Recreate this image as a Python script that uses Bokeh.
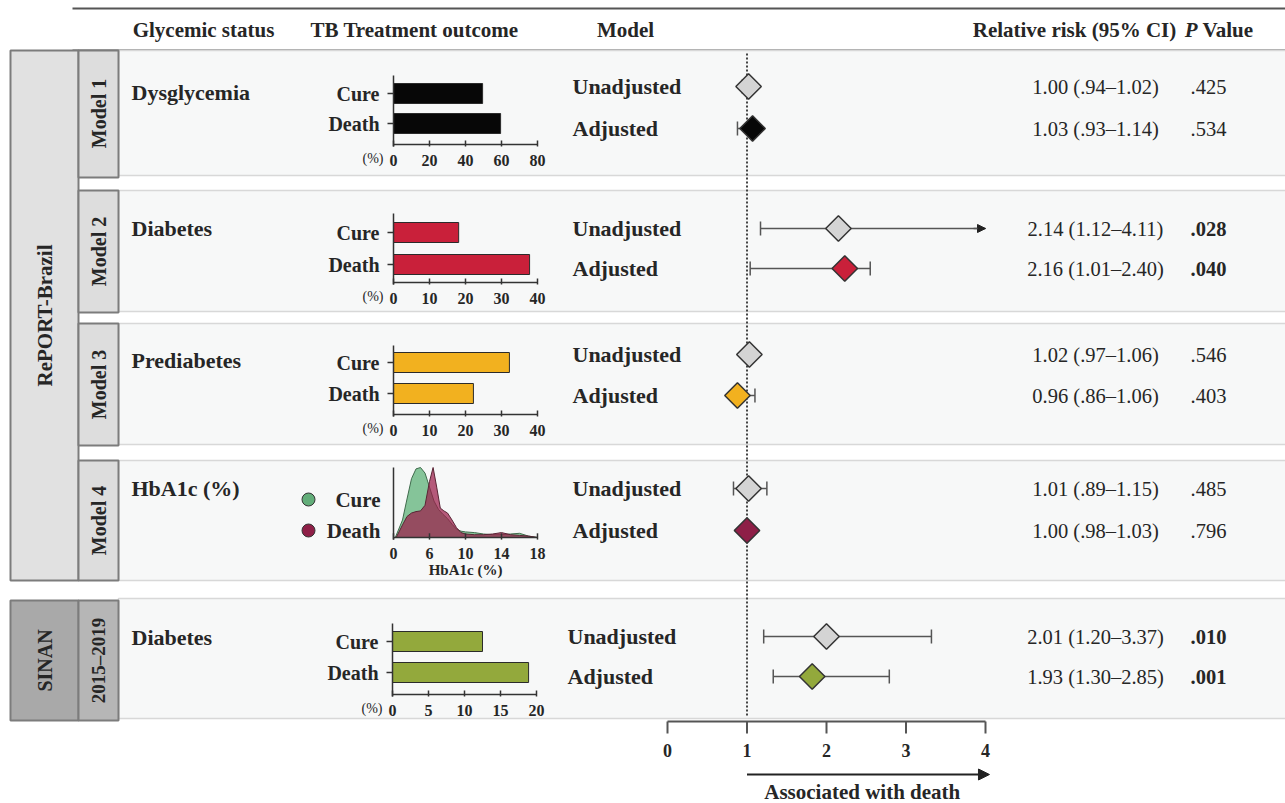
import numpy as np
from bokeh.plotting import figure
from bokeh.models import Range1d, Arrow, NormalHead
from bokeh.core.properties import value
from bokeh.embed import file_html
from bokeh.resources import INLINE

# ---------------- data ----------------
row_labels = ["Model 1", "Model 2", "Model 3", "Model 4", "2015–2019"]
glycemic = ["Dysglycemia", "Diabetes", "Prediabetes", "HbA1c (%)", "Diabetes"]
model_types = ["Unadjusted", "Adjusted"]
outcomes = ["Cure", "Death"]

rr_text = [["1.00 (.94–1.02)", "1.03 (.93–1.14)"],
           ["2.14 (1.12–4.11)", "2.16 (1.01–2.40)"],
           ["1.02 (.97–1.06)", "0.96 (.86–1.06)"],
           ["1.01 (.89–1.15)", "1.00 (.98–1.03)"],
           ["2.01 (1.20–3.37)", "1.93 (1.30–2.85)"]]
p_text = [[".425", ".534"], [".028", ".040"], [".546", ".403"], [".485", ".796"], [".010", ".001"]]
p_vals = [[0.425, 0.534], [0.028, 0.040], [0.546, 0.403], [0.485, 0.796], [0.010, 0.001]]

# forest marks
rr_est = [[1.02, 1.07], [2.15, 2.23], [1.03, 0.88], [1.02, 1.00], [2.00, 1.82]]
rr_lo = [[0.94, 0.88], [1.17, 1.04], [0.97, 0.86], [0.83, 0.98], [1.21, 1.33]]
rr_hi = [[1.02, 1.14], [4.11, 2.55], [1.06, 1.10], [1.25, 1.03], [3.32, 2.79]]
rr_ticks = [0, 1, 2, 3, 4]

# bar charts (% of patients)
cure_pct = [49.5, 18.1, 32.2, None, 12.5]
death_pct = [59.5, 37.8, 22.2, None, 18.9]
bar_ticks = [[0, 20, 40, 60, 80], [0, 10, 20, 30, 40], [0, 10, 20, 30, 40], [], [0, 5, 10, 15, 20]]

# HbA1c density (relative height)
cure_hb = [2.2, 3.0, 3.5, 4.0, 4.5, 5.0, 5.5, 6.0, 6.5, 7.0, 7.5, 8.0, 8.5, 9.0, 9.5, 10.0, 11.0, 12.0, 13.0, 14.0, 15.0, 16.0, 17.0, 18.0]
cure_dens = [0.0, 0.25, 0.55, 0.84, 0.98, 1.0, 0.92, 0.72, 0.52, 0.40, 0.33, 0.27, 0.19, 0.12, 0.09, 0.08, 0.07, 0.05, 0.04, 0.04, 0.05, 0.06, 0.02, 0.0]
death_hb = [2.3, 3.0, 3.5, 4.0, 4.5, 5.0, 5.5, 6.0, 6.4, 6.8, 7.2, 7.6, 8.0, 8.5, 9.0, 9.5, 10.0, 11.0, 12.0, 13.0, 14.0, 15.0, 16.0, 17.0, 18.0]
death_dens = [0.0, 0.18, 0.30, 0.35, 0.37, 0.38, 0.46, 0.80, 1.0, 0.72, 0.42, 0.38, 0.35, 0.25, 0.14, 0.07, 0.05, 0.04, 0.04, 0.05, 0.07, 0.04, 0.03, 0.02, 0.0]
hb_ticks = [2, 6, 10, 14, 18]
hb_tick_labels = ["0", "6", "10", "14", "18"]

# ---------------- styling / layout ----------------
adj_color = ["#070707", "#c9203a", "#f2b11f", "#8e1f47", "#93a93c"]
bar_color = ["#070707", "#c9203a", "#f2b11f", None, "#93a93c"]
grey_diamond = "#d4d4d4"
INK = "#262626"
FONT = value("Liberation Serif")

W, H = 1285, 803
X0, X1 = 0, W
YB, YT = H, 0

row_top = [50, 190, 323, 460, 598]
row_bot = [175, 311, 444, 580, 718]
label_y = [92, 228, 360, 488, 637]
model_y = [[86, 128], [228, 268], [354, 395], [488, 530], [636, 676]]
model_x = [572, 572, 572, 572, 567]
bar_y = [[93, 123], [232, 264], [362, 393], None, [641, 672]]
bar_axis_y = [144, 282, 414, None, 694]
bar_axis_top = [75, 213, 345, None, 623]
bar_px = [(393, 537), (393, 537), (393, 537), None, (392, 536)]


def lin_range(v0, r0, v1, r1, lo, hi):
    k = (v1 - v0) / (r1 - r0)
    return Range1d(start=v0 + (lo - r0) * k, end=v0 + (hi - r0) * k)


p = figure(width=W, height=H, x_range=Range1d(X0, X1), y_range=Range1d(YB, YT),
           x_axis_type=None, y_axis_type=None, output_backend="svg",
           toolbar_location=None, min_border=0)
p.grid.visible = False
p.outline_line_color = None
p.background_fill_color = "white"
p.border_fill_color = "white"

p.extra_x_ranges["rr"] = lin_range(0, 667, 4, 985, X0, X1)
p.extra_x_ranges["hb"] = lin_range(2, 393, 18, 537, X0, X1)
p.extra_y_ranges["dens"] = lin_range(0, 537, 1, 467, YB, YT)


def T(xs, ys, texts, size=19, style="bold", align="left", angle=0.0, color=INK,
      xr="default", yr="default", baseline="middle"):
    p.text(x=xs, y=ys, text=texts, text_font=FONT, text_font_size=f"{size}px",
           text_font_style=style, text_align=align, text_baseline=baseline,
           text_color=color, angle=angle, x_range_name=xr, y_range_name=yr)


# header lines and texts
p.segment(x0=[72, 72], x1=[1290, 1290], y0=[8, 50], y1=[8, 50], line_color="#555555", line_width=2)
T([203], [29], ["Glycemic status"], size=21, align="center")
T([414], [29], ["TB Treatment outcome"], size=21, align="center")
T([625], [29], ["Model"], size=21, align="center")
T([1074], [29], ["Relative risk (95% CI)"], size=21, align="center")
T([1197], [29], ["P"], size=21, style="bold italic", align="right")
T([1202], [29], ["Value"], size=21)

# row panels
p.quad(left=118, right=1295, top=row_top, bottom=row_bot, fill_color="#f7f8f8",
       line_color="#d8d8d8", line_width=1.5)

# left boxes
p.quad(left=[10], right=[78], top=[50], bottom=[580], fill_color="#e1e1e1", line_color="#7c7c7c", line_width=2)
p.quad(left=78, right=118, top=[50, 190, 323, 460], bottom=[177, 312, 445, 580],
       fill_color="#dddddd", line_color="#7c7c7c", line_width=2)
p.quad(left=[10], right=[78], top=[600], bottom=[720], fill_color="#a9a9a9", line_color="#7c7c7c", line_width=2)
p.quad(left=[78], right=[118], top=[600], bottom=[720], fill_color="#b6b6b6", line_color="#7c7c7c", line_width=2)

T([44], [315], ["RePORT-Brazil"], size=21, align="center", angle=np.pi / 2)
T([44], [660], ["SINAN"], size=20, align="center", angle=np.pi / 2)
box_mid = [113, 251, 384, 520]
T([98] * 4, box_mid, row_labels[:4], size=20, align="center", angle=np.pi / 2)
T([98], [660], [row_labels[4]], size=19, align="center", angle=np.pi / 2)

# glycemic status labels
T([131] * 5, label_y, glycemic, size=22)

# model labels
for r in range(5):
    T([model_x[r]] * 2, model_y[r], model_types, size=22)

# RR text and p values
for r in range(5):
    T([1095] * 2, model_y[r], rr_text[r], size=20.5, style="normal", align="center")
    for j in range(2):
        T([1208], [model_y[r][j]], [p_text[r][j]], size=20.5,
          style="bold" if p_vals[r][j] < 0.05 else "normal", align="center")

# bar charts
for i in range(5):
    if cure_pct[i] is None:
        continue
    name = f"bar{i}"
    ticks = bar_ticks[i]
    px0, px1 = bar_px[i]
    p.extra_x_ranges[name] = lin_range(ticks[0], px0, ticks[-1], px1, X0, X1)
    yc, yd = bar_y[i]
    ay = bar_axis_y[i]
    p.hbar(y=[yc, yd], left=0, right=[cure_pct[i], death_pct[i]], height=20,
           fill_color=bar_color[i], line_color="#2b2b2b", line_width=1, x_range_name=name)
    p.segment(x0=[ticks[0]], x1=[ticks[-1]], y0=[ay], y1=[ay], x_range_name=name,
              line_color="#333333", line_width=1.5)
    p.segment(x0=ticks, x1=ticks, y0=[ay - 4] * len(ticks), y1=[ay + 2] * len(ticks),
              x_range_name=name, line_color="#333333", line_width=1.5)
    p.segment(x0=[0], x1=[0], y0=[bar_axis_top[i]], y1=[ay + 2], x_range_name=name,
              line_color="#333333", line_width=1.5)
    p.segment(x0=[px0 - 6] * 2, x1=[px0] * 2, y0=[yc, yd], y1=[yc, yd], line_color="#333333", line_width=1.5)
    T(ticks, [ay + 16] * len(ticks), [str(t) for t in ticks], size=16, align="center", xr=name)
    T([px0 - 10], [ay + 14], ["(%)"], size=14, style="normal", align="right")
    T([px0 - 14] * 2, [yc, yd], outcomes, size=20, align="right")

# HbA1c density
p.varea(x=cure_hb, y1=[0] * len(cure_hb), y2=cure_dens, fill_color="#85c499",
        x_range_name="hb", y_range_name="dens")
p.line(x=cure_hb, y=cure_dens, line_color="#3f6b4c", line_width=1,
       x_range_name="hb", y_range_name="dens")
p.varea(x=death_hb, y1=[0] * len(death_hb), y2=death_dens, fill_color="#9b1d4a", fill_alpha=0.72,
        x_range_name="hb", y_range_name="dens")
p.line(x=death_hb, y=death_dens, line_color="#5a2535", line_width=1,
       x_range_name="hb", y_range_name="dens")
p.segment(x0=[2, 2], x1=[18, 2], y0=[0, -0.03], y1=[0, 1.0], line_color="#333333", line_width=1.5,
          x_range_name="hb", y_range_name="dens")
p.segment(x0=hb_ticks, x1=hb_ticks, y0=[0.06] * 5, y1=[-0.03] * 5, line_color="#333333", line_width=1.5,
          x_range_name="hb", y_range_name="dens")
T(hb_ticks, [553] * 5, hb_tick_labels, size=16, align="center", xr="hb")
T([10], [569], ["HbA1c (%)"], size=15, align="center", xr="hb")
p.scatter(x=[308, 308], y=[499, 530], size=13, marker="circle",
          fill_color=["#62ad79", "#8e1f47"], line_color="#333333", line_width=1)
T([380, 380], [499, 530], outcomes, size=21, align="right")

# forest plot
p.segment(x0=[1], x1=[1], y0=[53], y1=[717], x_range_name="rr", line_color="#444444",
          line_width=2, line_dash="2 2")
for r in range(5):
    for j in range(2):
        y = model_y[r][j]
        lo, hi = rr_lo[r][j], rr_hi[r][j]
        hi_d = min(hi, 4.0)
        p.segment(x0=[lo], x1=[hi_d], y0=[y], y1=[y], x_range_name="rr", line_color="#555555", line_width=1.5)
        caps = [lo] if hi > 4 else [lo, hi]
        p.segment(x0=caps, x1=caps, y0=[y - 7] * len(caps), y1=[y + 7] * len(caps),
                  x_range_name="rr", line_color="#555555", line_width=1.5)
        if hi > 4:
            p.add_layout(Arrow(end=NormalHead(size=8, fill_color="#222222", line_color="#222222"),
                               x_start=3.85, x_end=4.0, y_start=y, y_end=y, x_range_name="rr",
                               line_color="#555555", line_width=1.5))
        p.scatter(x=[rr_est[r][j]], y=[y], marker="square", angle=np.pi / 4, size=18,
                  fill_color=grey_diamond if j == 0 else adj_color[r], line_color="#333333",
                  line_width=1.5, x_range_name="rr")

# RR axis
p.segment(x0=[rr_ticks[0]], x1=[rr_ticks[-1]], y0=[721], y1=[721], x_range_name="rr",
          line_color="#555555", line_width=2)
p.segment(x0=rr_ticks, x1=rr_ticks, y0=[721] * 5, y1=[733] * 5, x_range_name="rr",
          line_color="#555555", line_width=2)
T(rr_ticks, [750] * 5, [str(t) for t in rr_ticks], size=18, align="center", xr="rr")
p.add_layout(Arrow(end=NormalHead(size=11, fill_color="#222222", line_color="#222222"),
                   x_start=1, x_end=4.05, y_start=774, y_end=774, x_range_name="rr",
                   line_color="#222222", line_width=2))
T([2.45], [791], ["Associated with death"], size=21, align="center", xr="rr")

open("out.html", "w").write(file_html(p, INLINE))
